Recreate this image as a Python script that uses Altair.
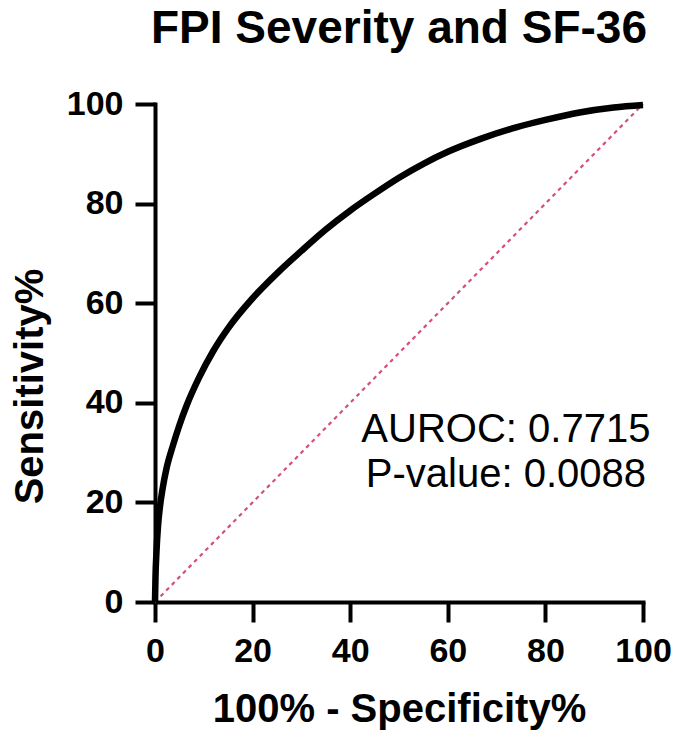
import altair as alt
import pandas as pd

# ROC curve (x = 100% - Specificity%, y = Sensitivity%)
fpr = [0, 0.1, 0.3, 0.6, 1.0, 1.6, 2.4, 3.7, 5.0, 6.5, 9.0, 12.0, 15.0, 20.0, 25.0,
       30.0, 35.0, 40.0, 45.0, 50.0, 55.0, 60.0, 67.0, 74.0, 80.0, 87.0, 94.0, 100.0]
tpr = [0, 5.0, 10.0, 15.0, 19.0, 23.0, 27.0, 31.5, 35.5, 39.5, 45.0, 50.5, 55.0, 61.0, 66.0,
       70.5, 74.8, 78.6, 82.0, 85.2, 88.0, 90.4, 93.1, 95.3, 96.8, 98.3, 99.3, 99.8]

# reference (chance) line
diag_fpr = [0, 100]
diag_tpr = [0, 100]

ticks = [0, 20, 40, 60, 80, 100]

title_text = "FPI Severity and SF-36"
x_title = "100% - Specificity%"
y_title = "Sensitivity%"

ann_lines = ["AUROC: 0.7715", "P-value: 0.0088"]
ann_x = [71.9, 71.9]
ann_y = [32.1, 23.1]

FONT = "Liberation Sans"

curve_df = pd.DataFrame({"fpr": fpr, "tpr": tpr})
diag_df = pd.DataFrame({"fpr": diag_fpr, "tpr": diag_tpr})
ann_df = pd.DataFrame({"label": ann_lines, "x": ann_x, "y": ann_y})

x_scale = alt.Scale(domain=[0, 100], nice=False, zero=False)
y_scale = alt.Scale(domain=[0, 100], nice=False, zero=False)

x_axis = alt.Axis(values=ticks, title=x_title, titleY=119, titleBaseline="alphabetic")
y_axis = alt.Axis(values=ticks, title=y_title, titleX=-113, titleY=282,
                  titleBaseline="alphabetic")

diag = alt.Chart(diag_df).mark_line(
    color="#d4507a", strokeWidth=2.2, strokeDash=[4, 4]
).encode(
    x=alt.X("fpr:Q", scale=x_scale, axis=x_axis),
    y=alt.Y("tpr:Q", scale=y_scale, axis=y_axis),
)

curve = alt.Chart(curve_df).mark_line(
    color="black", strokeWidth=6.5, interpolate="monotone"
).encode(
    x=alt.X("fpr:Q", scale=x_scale, axis=x_axis),
    y=alt.Y("tpr:Q", scale=y_scale, axis=y_axis),
)

ann = alt.Chart(ann_df).mark_text(
    font=FONT, fontSize=40, align="center", baseline="alphabetic", color="black"
).encode(
    x=alt.X("x:Q", scale=x_scale),
    y=alt.Y("y:Q", scale=y_scale),
    text="label:N",
)

chart = alt.layer(diag, curve, ann).properties(
    width=488,
    height=498,
    title=alt.TitleParams(
        text=title_text, font=FONT, fontSize=46, fontWeight="bold", color="black",
        anchor="middle", frame="group", baseline="alphabetic", offset=-2,
    ),
    padding={"left": 147, "top": 96, "right": 34, "bottom": 132},
    autosize=alt.AutoSizeParams(type="none"),
).configure_view(
    stroke=None
).configure_axis(
    domainColor="black", domainWidth=4, domainCap="square",
    tickColor="black", tickWidth=4, tickSize=20,
    labelFont=FONT, labelFontSize=34, labelFontWeight="bold", labelColor="black",
    labelPadding=12, labelFlush=False,
    titleFont=FONT, titleFontSize=40, titleFontWeight="bold", titleColor="black",
    grid=False,
)

chart.save("out.html", embed_options={"renderer": "svg", "actions": False})
